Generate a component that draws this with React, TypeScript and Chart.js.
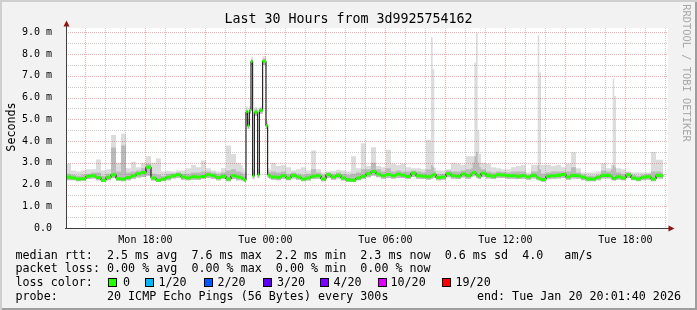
import React, { useEffect, useRef } from "react";
import { Chart, registerables } from "chart.js";

Chart.register(...registerables);

// minutes after the graph start (Mon 14:01:40); each value covers the interval ending at its time
const sampleMinutes = [
  0, 15, 30, 45, 60, 75, 90, 105, 120, 135, 150, 165, 180, 195, 210, 225, 240, 255,
  270, 285, 300, 315, 330, 345, 360, 375, 390, 405, 420, 435, 450, 465, 480, 495, 510, 525,
  530, 535, 540, 545, 550, 555, 560, 565, 570, 575, 580, 585, 590, 595, 600, 605, 610, 615,
  630, 645, 660, 675, 690, 705, 720, 735, 750, 765, 780, 795, 810, 825, 840, 855, 870, 885,
  900, 915, 930, 945, 960, 975, 990, 1005, 1020, 1035, 1050, 1065, 1080, 1095, 1100, 1105,
  1110, 1125, 1140, 1155, 1170, 1185, 1200, 1215, 1220, 1225, 1230, 1235, 1240, 1245,
  1260, 1275, 1290, 1305, 1320, 1335, 1350, 1365, 1380, 1395, 1410, 1415, 1420, 1425,
  1440, 1455, 1470, 1485, 1500, 1515, 1530, 1545, 1560, 1575, 1590, 1605, 1620, 1635,
  1640, 1645, 1650, 1665, 1680, 1695, 1710, 1725, 1740, 1755, 1770, 1785, 1792,
];

// median rtt (ms)
const medianMs = [
  2.33, 2.34, 2.3, 2.25, 2.27, 2.38, 2.4, 2.32, 2.2, 2.33, 2.45, 2.27, 2.25, 2.32, 2.4, 2.5, 2.55, 2.8,
  2.3, 2.2, 2.25, 2.33, 2.4, 2.45, 2.35, 2.3, 2.36, 2.35, 2.37, 2.45, 2.4, 2.32, 2.38, 2.25, 2.4, 2.35,
  2.3, 2.25, 2.2, 5.35, 4.7, 5.4, 7.67, 2.4, 5.32, 5.32, 2.45, 5.41, 5.41, 7.67, 7.67, 4.7, 2.45, 2.4,
  2.35, 2.33, 2.4, 2.3, 2.42, 2.35, 2.25, 2.3, 2.38, 2.4, 2.25, 2.45, 2.35, 2.42, 2.3, 2.22, 2.2, 2.3,
  2.38, 2.5, 2.6, 2.48, 2.4, 2.46, 2.4, 2.47, 2.43, 2.37, 2.52, 2.4, 2.38, 2.36, 2.4, 2.45,
  2.46, 2.32, 2.35, 2.5, 2.4, 2.38, 2.48, 2.4, 2.5, 2.55, 2.55, 2.45, 2.4, 2.38,
  2.52, 2.42, 2.38, 2.45, 2.44, 2.4, 2.4, 2.38, 2.4, 2.35, 2.42, 2.35, 2.3, 2.27,
  2.23, 2.38, 2.4, 2.42, 2.46, 2.35, 2.42, 2.4, 2.33, 2.26, 2.25, 2.33, 2.42, 2.42,
  2.35, 2.28, 2.28, 2.36, 2.3, 2.45, 2.3, 2.25, 2.33, 2.36, 2.25, 2.42, 2.4,
];

// smoke: fastest ping (ms)
const smokeLowMs = [
  2.2, 2.2, 2.2, 2.15, 2.17, 2.25, 2.28, 2.2, 2.12, 2.2, 2.3, 2.17, 2.15, 2.2, 2.27, 2.32, 2.35, 2.4,
  2.18, 2.12, 2.15, 2.2, 2.28, 2.3, 2.22, 2.2, 2.22, 2.22, 2.25, 2.3, 2.27, 2.2, 2.25, 2.15, 2.25, 2.2,
  2.18, 2.15, 2.1, 5.2, 4.55, 5.25, 7.5, 2.25, 5.15, 5.15, 2.3, 5.25, 5.25, 7.5, 7.5, 4.55, 2.3, 2.25,
  2.22, 2.2, 2.27, 2.2, 2.28, 2.22, 2.15, 2.18, 2.25, 2.27, 2.15, 2.3, 2.22, 2.28, 2.18, 2.12, 2.12, 2.2,
  2.25, 2.33, 2.4, 2.33, 2.27, 2.3, 2.27, 2.3, 2.3, 2.25, 2.35, 2.27, 2.25, 2.22, 2.25, 2.3,
  2.3, 2.2, 2.22, 2.33, 2.27, 2.25, 2.32, 2.27, 2.33, 2.38, 2.38, 2.3, 2.27, 2.25,
  2.35, 2.28, 2.25, 2.3, 2.3, 2.27, 2.27, 2.25, 2.27, 2.22, 2.28, 2.22, 2.2, 2.17,
  2.13, 2.25, 2.27, 2.28, 2.3, 2.22, 2.28, 2.27, 2.2, 2.15, 2.15, 2.2, 2.28, 2.28,
  2.22, 2.18, 2.18, 2.22, 2.2, 2.3, 2.2, 2.15, 2.2, 2.22, 2.15, 2.28, 2.28,
];

// smoke: top of the dense (darker) part (ms)
const smokeMidMs = [
  2.45, 2.5, 2.45, 2.4, 2.45, 2.5, 2.55, 2.55, 2.4, 2.5, 3.7, 2.6, 3.8, 2.55, 2.6, 2.65, 2.75, 2.95,
  2.5, 2.45, 2.4, 2.5, 2.52, 2.55, 2.5, 2.5, 2.55, 2.55, 2.6, 2.6, 2.55, 2.5, 2.55, 2.65, 2.7, 2.6,
  2.55, 2.5, 2.4, 5.45, 4.85, 5.5, 7.75, 2.55, 5.45, 5.45, 2.55, 5.5, 5.5, 7.78, 7.78, 4.85, 2.6, 2.55,
  2.6, 2.55, 2.6, 2.5, 2.55, 2.5, 2.45, 2.5, 2.7, 2.55, 2.45, 2.55, 2.5, 2.55, 2.5, 2.45, 2.5, 2.55,
  2.7, 2.7, 3.0, 2.7, 2.6, 2.75, 2.6, 2.65, 2.6, 2.6, 2.65, 2.6, 2.55, 2.7, 2.9, 2.8,
  2.6, 2.5, 2.5, 2.65, 2.6, 2.6, 2.65, 2.7, 2.75, 3.0, 3.3, 3.5, 3.0, 2.8,
  2.7, 2.6, 2.55, 2.6, 2.58, 2.55, 2.6, 2.6, 2.6, 2.45, 2.6, 2.6, 2.9, 2.7,
  2.5, 2.55, 2.6, 2.6, 2.6, 2.6, 2.8, 2.55, 2.45, 2.4, 2.4, 2.45, 2.65, 2.6,
  2.7, 2.9, 2.8, 2.55, 2.5, 2.55, 2.45, 2.4, 2.45, 2.5, 2.6, 2.6, 2.55,
];

// smoke: slowest ping (ms)
const smokeHighMs = [
  2.6, 2.95, 2.65, 2.6, 2.65, 2.7, 2.7, 3.15, 2.65, 2.7, 4.28, 3.0, 4.34, 2.75, 3.05, 2.8, 3.0, 3.3,
  3.0, 3.2, 2.6, 2.62, 2.6, 2.65, 2.65, 2.75, 2.9, 2.8, 3.1, 2.75, 2.65, 2.6, 2.75, 3.8, 3.4, 3.0,
  2.9, 2.75, 2.6, 5.6, 5.0, 5.6, 7.85, 2.7, 5.55, 5.55, 2.7, 5.6, 5.6, 7.9, 7.9, 4.95, 2.75, 2.7,
  3.0, 2.85, 2.9, 2.8, 2.65, 2.7, 2.8, 2.65, 3.57, 2.7, 2.55, 2.6, 2.62, 2.68, 2.65, 2.6, 3.3, 2.75,
  3.9, 2.85, 3.72, 2.85, 2.8, 3.6, 2.95, 2.9, 2.95, 2.8, 2.75, 2.75, 2.7, 4.06, 8.78, 7.3,
  2.75, 2.65, 2.65, 2.7, 3.0, 2.95, 2.9, 3.3, 3.3, 3.3, 7.6, 8.98, 4.5, 3.4,
  3.0, 2.95, 2.8, 2.75, 2.7, 2.7, 2.8, 2.85, 2.9, 2.55, 2.9, 2.9, 8.87, 7.15,
  2.9, 2.9, 2.85, 2.9, 2.8, 2.95, 3.48, 2.75, 2.55, 2.55, 2.55, 2.6, 2.98, 2.75,
  2.9, 6.88, 6.07, 2.75, 2.7, 2.6, 2.55, 2.55, 2.55, 2.55, 3.5, 3.14, 3.14,
];

// x ticks (hours after Mon 14:01:40)
const xTickHours = [3.9722, 9.9722, 15.9722, 21.9722, 27.9722];
const xTickLabels = ["Mon 18:00", "Tue 00:00", "Tue 06:00", "Tue 12:00", "Tue 18:00"];
const yTickValues = [0, 1, 2, 3, 4, 5, 6, 7, 8, 9];
const yTickLabels = ["0.0", "1.0 m", "2.0 m", "3.0 m", "4.0 m", "5.0 m", "6.0 m", "7.0 m", "8.0 m", "9.0 m"];

const lossLabels = ["0", "1/20", "2/20", "3/20", "4/20", "10/20", "19/20"];
const lossColors = ["#26ff00", "#00b8ff", "#0059ff", "#5e00ff", "#7e00ff", "#dd00ff", "#ff0000"];
const lossBoxX = [108, 145, 204, 263, 320, 378, 442];
const lossTextX = [123, 158.5, 217.5, 277, 333.5, 390.5, 455.5];

const MONO = '"DejaVu Sans Mono", monospace';
const GREEN_HALF = 0.07;
const MAJOR_GRID = "rgba(222, 60, 60, 0.42)";
const MINOR_GRID = "rgba(143, 143, 143, 0.45)";
const AXIS_COLOR = "#404040";
const ARROW_COLOR = "#8e1414";

const toPoints = (vals: number[]) => sampleMinutes.map((m, i) => ({ x: m / 60, y: vals[i] }));

const rrdPlugin = {
  id: "rrdLook",
  beforeDraw(chart: any) {
    const { ctx, chartArea: a } = chart;
    ctx.save();
    ctx.fillStyle = "#ffffff";
    ctx.fillRect(a.left, a.top, a.right - a.left + 2, a.bottom - a.top);
    ctx.restore();
  },
  beforeDatasetDraw(chart: any, args: any) {
    if (args.index !== 3) return;
    const { ctx, chartArea: a } = chart;
    const xs = chart.scales.x;
    const ys = chart.scales.y;
    ctx.save();
    ctx.lineWidth = 1;
    ctx.setLineDash([1, 1]);
    for (let k = 1; k <= 30; k++) {
      const h = k - 1 / 36;
      const px = Math.round(xs.getPixelForValue(h)) + 0.5;
      ctx.strokeStyle = (14 + k) % 3 === 0 ? MAJOR_GRID : MINOR_GRID;
      ctx.beginPath();
      ctx.moveTo(px, a.top);
      ctx.lineTo(px, a.bottom);
      ctx.stroke();
    }
    for (let s = 1; s <= 18; s++) {
      const v = s / 2;
      const py = Math.round(ys.getPixelForValue(v)) + 0.5;
      ctx.strokeStyle = s % 2 === 0 ? MAJOR_GRID : MINOR_GRID;
      ctx.beginPath();
      ctx.moveTo(a.left, py);
      ctx.lineTo(a.right + 2, py);
      ctx.stroke();
    }
    ctx.restore();
  },
  afterDatasetsDraw(chart: any) {
    const { ctx, chartArea: a } = chart;
    const ax = a.left + 0.5;
    const ay = a.bottom + 0.5;
    ctx.save();
    ctx.setLineDash([]);
    ctx.lineWidth = 1;
    ctx.strokeStyle = AXIS_COLOR;
    ctx.beginPath();
    ctx.moveTo(a.left - 1, ay);
    ctx.lineTo(a.right + 3, ay);
    ctx.moveTo(ax, a.bottom + 1);
    ctx.lineTo(ax, a.top - 2);
    ctx.stroke();
    ctx.fillStyle = ARROW_COLOR;
    ctx.beginPath();
    ctx.moveTo(ax - 3, a.top - 1.5);
    ctx.lineTo(ax + 3, a.top - 1.5);
    ctx.lineTo(ax, a.top - 7.5);
    ctx.closePath();
    ctx.fill();
    ctx.beginPath();
    ctx.moveTo(a.right + 2.5, ay - 3);
    ctx.lineTo(a.right + 2.5, ay + 3);
    ctx.lineTo(a.right + 8.5, ay);
    ctx.closePath();
    ctx.fill();
    ctx.restore();
  },
};

const hidden = "rgba(0,0,0,0)";

export default function App() {
  const ref = useRef<HTMLCanvasElement>(null);

  useEffect(() => {
    if (!ref.current) return;
    const chart = new Chart(ref.current, {
      type: "line",
      data: {
        datasets: [
          { label: "lo", data: toPoints(smokeLowMs), borderColor: hidden, borderWidth: 0, pointRadius: 0, fill: false, stepped: "after", order: 10 },
          { label: "hi", data: toPoints(smokeHighMs), borderColor: hidden, borderWidth: 0, pointRadius: 0, fill: "-1", backgroundColor: "#dcdcdc", stepped: "after", order: 9 },
          { label: "mid", data: toPoints(smokeMidMs), borderColor: hidden, borderWidth: 0, pointRadius: 0, fill: "-2", backgroundColor: "#bababa", stepped: "after", order: 8 },
          { label: "median", data: toPoints(medianMs), borderColor: "#000000", borderWidth: 1, pointRadius: 0, fill: false, stepped: "after", order: 3 },
          { label: "gLo", data: toPoints(medianMs.map((v) => v - GREEN_HALF)), borderColor: hidden, borderWidth: 0, pointRadius: 0, fill: false, stepped: "after", order: 2 },
          { label: "gHi", data: toPoints(medianMs.map((v) => v + GREEN_HALF)), borderColor: hidden, borderWidth: 0, pointRadius: 0, fill: "-1", backgroundColor: "#26ff00", stepped: "after", order: 1 },
        ],
      } as any,
      options: {
        animation: false,
        responsive: false,
        devicePixelRatio: 1,
        events: [],
        layout: { padding: { left: 0, top: 28, right: 31, bottom: 62 } },
        plugins: { legend: { display: false }, tooltip: { enabled: false }, title: { display: false } },
        scales: {
          x: {
            type: "linear",
            min: 0,
            max: 30,
            grid: { display: false },
            border: { display: false },
            afterBuildTicks: (s: any) => {
              s.ticks = xTickHours.map((v) => ({ value: v }));
            },
            afterFit: (s: any) => {
              s.height = 20;
            },
            ticks: {
              autoSkip: false,
              maxRotation: 0,
              padding: -2,
              color: "#000",
              font: { family: MONO, size: 10 },
              callback: (_v: any, i: number) => xTickLabels[i],
            },
          },
          y: {
            type: "linear",
            min: 0,
            max: 9.2,
            grid: { display: false },
            border: { display: false },
            afterBuildTicks: (s: any) => {
              s.ticks = yTickValues.map((v) => ({ value: v }));
            },
            afterFit: (s: any) => {
              s.width = 66;
            },
            ticks: {
              padding: 6,
              color: "#000",
              font: { family: MONO, size: 10 },
              callback: (_v: any, i: number) => yTickLabels[i],
            },
          },
        },
      } as any,
      plugins: [rrdPlugin],
    });
    return () => chart.destroy();
  }, []);

  const line = (top: number, left: number, text: string, extra: any = {}) => (
    <div
      style={{
        position: "absolute",
        top,
        left,
        fontSize: 11.7,
        lineHeight: "14px",
        whiteSpace: "pre",
        ...extra,
      }}
    >
      {text}
    </div>
  );

  return (
    <div
      style={{
        position: "fixed",
        left: 0,
        top: 0,
        width: 697,
        height: 310,
        background: "#f2f2f2",
        boxShadow: "inset 2px 2px 0 #cfcfcf, inset -2px -2px 0 #9e9e9e",
        overflow: "hidden",
        fontFamily: MONO,
        color: "#000",
      }}
    >
      <canvas ref={ref} width={697} height={310} style={{ position: "absolute", left: 0, top: 0, width: 697, height: 310 }} />
      <div style={{ position: "absolute", left: 0, top: 11, width: 697, textAlign: "center", fontSize: 13.3, lineHeight: "16px", whiteSpace: "pre" }}>
        Last 30 Hours from 3d9925754162
      </div>
      <div
        style={{
          position: "absolute",
          left: 11 - 50,
          top: 127 - 7,
          width: 100,
          height: 14,
          textAlign: "center",
          fontSize: 11.7,
          lineHeight: "14px",
          transform: "rotate(-90deg)",
        }}
      >
        Seconds
      </div>
      <div
        style={{
          position: "absolute",
          left: 687 - 80,
          top: 73 - 6,
          width: 160,
          height: 12,
          textAlign: "center",
          fontSize: 10.4,
          lineHeight: "12px",
          color: "#a8a8a8",
          whiteSpace: "pre",
          transform: "rotate(90deg)",
        }}
      >
        RRDTOOL / TOBI OETIKER
      </div>
      {line(247.5, 15.5, "median rtt:  2.5 ms avg  7.6 ms max  2.2 ms min  2.3 ms now  0.6 ms sd  4.0   am/s")}
      {line(261.3, 15.5, "packet loss: 0.00 % avg  0.00 % max  0.00 % min  0.00 % now")}
      {line(275.2, 15.5, "loss color:")}
      {lossLabels.map((lab, i) => (
        <React.Fragment key={lab}>
          <div
            style={{
              position: "absolute",
              left: lossBoxX[i],
              top: 278,
              width: 9,
              height: 9,
              boxSizing: "border-box",
              border: "1px solid #000",
              background: lossColors[i],
            }}
          />
          {line(275.2, lossTextX[i], lab)}
        </React.Fragment>
      ))}
      {line(289.1, 15.5, "probe:       20 ICMP Echo Pings (56 Bytes) every 300s")}
      <div style={{ position: "absolute", top: 289.1, right: 16, fontSize: 11.7, lineHeight: "14px", whiteSpace: "pre" }}>
        end: Tue Jan 20 20:01:40 2026
      </div>
    </div>
  );
}
